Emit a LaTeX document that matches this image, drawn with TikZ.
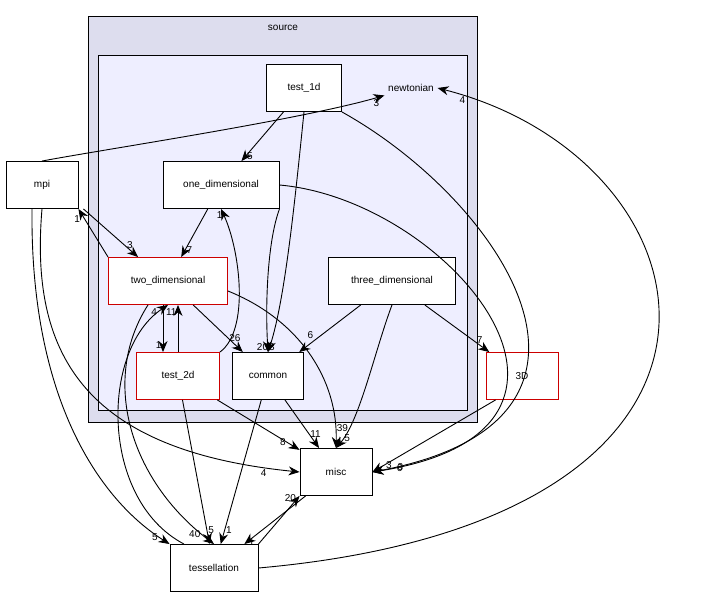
\documentclass[tikz,border=0pt]{standalone}
\usepackage{fontspec}
\setmainfont{Liberation Sans}
\usetikzlibrary{arrows.meta}
\definecolor{outerfill}{HTML}{DDDDEE}
\definecolor{innerfill}{HTML}{EEEEFF}
\begin{document}
\begin{tikzpicture}[x=1pt,y=-1pt,font=\fontsize{10}{12}\selectfont,line width=0.9pt,
    dir/.style={draw=black,fill=white,minimum width=#1,minimum height=47pt,inner sep=2pt},
    dir/.default=72pt,
    red dir/.style={dir=#1,draw=red!80!black},
    red dir/.default=72pt,
    dep/.style={-{Stealth[length=11pt,width=9pt,fill=black]},black},
    num/.style={inner sep=1pt,font=\fontsize{10}{12}\selectfont}]

    \useasboundingbox (0,0) rectangle (704,599);

    % the clusters
    \draw[fill=outerfill] (88,16) rectangle (477,422);
    \node at (283,28) {source};
    \draw[fill=innerfill] (98,55) rectangle (467,410);
    \node (newtonian) at (411,88) {newtonian};

    % the directories
    \node[dir=75pt] (test1d) at (304,88) {test\_1d};
    \node[dir=116pt] (one) at (221,185) {one\_dimensional};
    \node[red dir=119pt] (two) at (168,281) {two\_dimensional};
    \node[dir=127pt] (three) at (392,281) {three\_dimensional};
    \node[red dir=83pt] (test2d) at (178,376) {test\_2d};
    \node[dir=71pt] (common) at (268,376) {common};
    \node[dir] (mpi) at (42,185) {mpi};
    \node[red dir] (3D) at (522,376) {3D};
    \node[dir] (misc) at (336,472) {misc};
    \node[dir=88pt] (tess) at (214,568) {tessellation};

    % the dependencies
    \draw[dep] (test1d) -- node[num,pos=.9,right]{5} (one);
    \draw[dep] (test1d.south) .. controls (295,200) and (285,300) .. node[num,pos=.97,left]{20} (common.north);
    \draw[dep] (test1d.south east) .. controls (500,200) and (650,420) .. node[num,pos=.97,right]{3} (misc.east);
    \draw[dep] (mpi.north) .. controls (100,150) and (300,120) .. node[num,pos=.97,below]{3} (newtonian.south west);
    \draw[dep] (tess.east) .. controls (800,520) and (720,160) .. node[num,pos=.97,below]{4} (newtonian.east);
    \draw[dep] (one) -- node[num,pos=.85,right]{7} (two);
    \draw[dep] (one.south east) .. controls (268,240) and (265,300) .. node[num,pos=.97,right]{3} (common.north);
    \draw[dep] (one.east) .. controls (450,200) and (640,430) .. node[num,pos=.97,right]{6} (misc.east);
    \draw[dep] (two.north west) -- node[num,pos=.9,below left]{1} (mpi.south east);
    \draw[dep] (mpi.south east) ++(5,0) -- node[num,pos=.85,above]{3} ([xshift=30pt]two.north west);
    \draw[dep] (two.south) ++(-5,0) -- node[num,pos=.85,left]{1} (test2d.north -| 163,0);
    \draw[dep] (test2d.north) -- node[num,pos=.85,left]{11} (two.south -| 178,0);
    \draw[dep] (test2d.north east) .. controls (250,330) and (240,250) .. node[num,pos=.95,left]{1} (one.south);
    \draw[dep] (two) -- node[num,pos=.7,right]{26} (common);
    \draw[dep] (two.east) ++(0,10) .. controls (300,320) and (338,380) .. node[num,pos=.9,right]{39} (misc.north);
    \draw[dep] (two.south) ++(-20,0) .. controls (100,380) and (130,480) .. node[num,pos=.95,left]{40} (tess.north);
    \draw[dep] (tess.north) ++(-30,0) .. controls (100,500) and (100,350) .. node[num,pos=.95,left]{4} (two.south);
    \draw[dep] (three) -- node[num,pos=.75,above left]{6} (common);
    \draw[dep] (three) -- node[num,pos=.85,above]{7} (3D);
    \draw[dep] (three.south) .. controls (375,350) and (360,420) .. node[num,pos=.9,right]{5} (misc.north);
    \draw[dep] (test2d) -- node[num,pos=.85,left]{8} (misc);
    \draw[dep] (test2d) -- node[num,pos=.9,right]{5} (tess);
    \draw[dep] (common) -- node[num,pos=.7,right]{11} (misc);
    \draw[dep] (common) -- node[num,pos=.9,right]{1} (tess);
    \draw[dep] (mpi.south) .. controls (30,350) and (80,450) .. node[num,pos=.95,below left]{4} (misc.west);
    \draw[dep] (mpi.south) ++(-10,0) .. controls (30,400) and (100,500) .. node[num,pos=.95,left]{5} (tess.north west);
    \draw[dep] (3D.south west) ++(10,0) -- node[num,pos=.9,right]{3} (misc.east);
    \draw[dep] (misc) -- node[num,pos=.95,right]{1} (tess);
    \draw[dep] (tess.north east) -- node[num,pos=.95,left]{20} (misc.south west);
\end{tikzpicture}
\end{document}
